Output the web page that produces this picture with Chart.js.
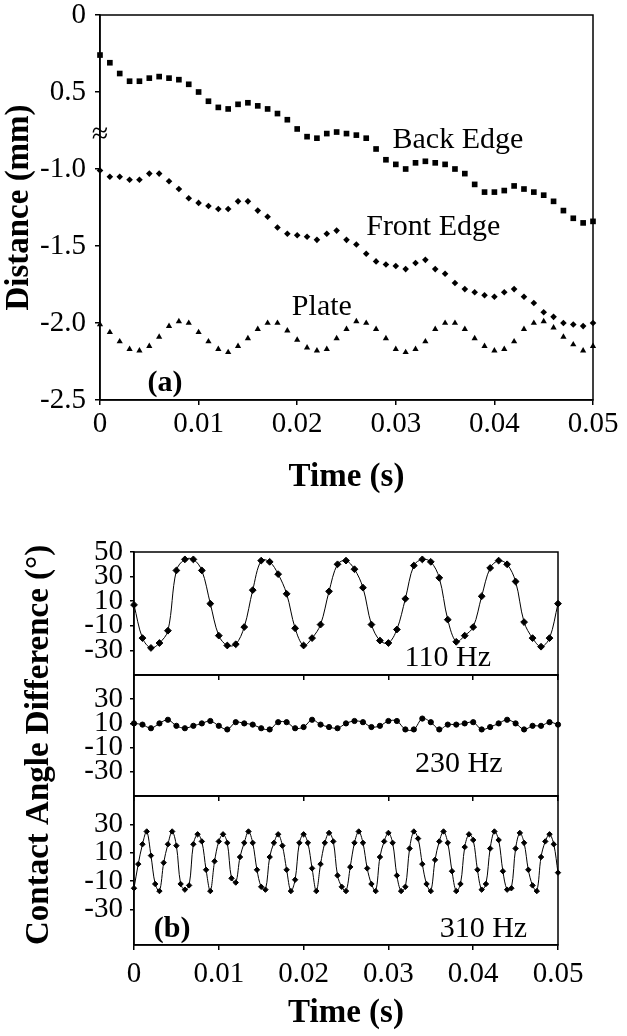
<!DOCTYPE html>
<html>
<head>
<meta charset="utf-8">
<script src="https://cdn.jsdelivr.net/npm/chart.js@4.4.1/dist/chart.umd.min.js"></script>
<style>
  html, body { margin: 0; padding: 0; background: #fff; }
  #page { position: relative; width: 627px; height: 1036px; overflow: hidden; }
  canvas { position: absolute; left: 0; }
</style>
</head>
<body>
<div id="page">
  <canvas id="chartA" width="627" height="520" style="top:0px"></canvas>
  <canvas id="chartB2" width="627" height="506" style="top:530px"></canvas>
  <canvas id="chartB1" width="627" height="150" style="top:530px"></canvas>
  <canvas id="chartB3" width="627" height="506" style="top:530px"></canvas>
</div>
<script>
// --- data ---
const xTickLabels = ['0', '0.01', '0.02', '0.03', '0.04', '0.05'];

// (a) sampled every 1 ms from 0 to 0.05 s
const timeA = Array.from({ length: 51 }, (_, i) => i * 0.001);
const backEdge = [
  -0.26, -0.31, -0.38, -0.43, -0.43, -0.41, -0.40, -0.41, -0.42, -0.45,
  -0.50, -0.56, -0.60, -0.61, -0.58, -0.57, -0.59, -0.61, -0.64, -0.68,
  -0.74, -0.79, -0.80, -0.77, -0.76, -0.77, -0.78, -0.80, -0.87, -0.94,
  -0.97, -1.00, -0.96, -0.95, -0.96, -0.97, -1.00, -1.03, -1.10, -1.15,
  -1.15, -1.14, -1.11, -1.13, -1.15, -1.17, -1.21, -1.27, -1.32, -1.35,
  -1.34
];
const frontEdge = [
  -1.01, -1.05, -1.05, -1.07, -1.07, -1.03, -1.03, -1.08, -1.13, -1.19,
  -1.22, -1.24, -1.26, -1.26, -1.21, -1.21, -1.27, -1.31, -1.38, -1.42,
  -1.43, -1.44, -1.46, -1.42, -1.40, -1.46, -1.49, -1.55, -1.60, -1.62,
  -1.63, -1.65, -1.61, -1.59, -1.65, -1.68, -1.74, -1.78, -1.80, -1.82,
  -1.83, -1.80, -1.78, -1.83, -1.87, -1.93, -1.96, -2.00, -2.01, -2.02,
  -2.00
];
const plate = [
  -2.01, -2.06, -2.12, -2.17, -2.18, -2.15, -2.09, -2.02, -1.99, -2.00,
  -2.06, -2.12, -2.17, -2.19, -2.15, -2.10, -2.04, -2.00, -2.00, -2.05,
  -2.11, -2.16, -2.18, -2.17, -2.10, -2.04, -1.99, -2.00, -2.04, -2.10,
  -2.17, -2.19, -2.17, -2.12, -2.04, -2.00, -2.00, -2.04, -2.10, -2.15,
  -2.18, -2.17, -2.12, -2.04, -2.00, -1.99, -2.03, -2.09, -2.14, -2.18,
  -2.15
];
const distTickValues = [0, -0.5, -1, -1.5, -2, -2.5];
const distTickLabels = ['0', '0.5', '-1.0', '-1.5', '-2.0', '-2.5'];

// (b) contact angle difference (deg)
const timeB = Array.from({ length: 51 }, (_, i) => i * 0.001);
const hz110 = [
    7, -20, -28, -24, -14,  35,  44,  44,  35,   8,
  -18, -26, -25, -11,  19,  43,  42,  32,  16, -12,
  -26, -20,  -9,  18,  40,  43,  36,  21,  -9, -22,
  -24, -13,  12,  39,  44,  42,  29,  -5, -23, -18,
  -11,  14,  37,  43,  40,  26,  -7, -20, -27, -20,
    8
];
const hz230 = [
  10,  9,  6, 10, 13,  8,  6,  8, 10, 12,
   8,  5, 11, 10,  9,  6,  5, 11, 11,  6,
   7, 13,  9,  7,  6, 10, 12, 11,  7,  8,
  12, 12,  5,  5, 14, 11,  5,  9,  9, 10,
  11,  5,  7, 10, 13, 10,  5,  8,  8, 11,
   9
];
// 310 Hz sampled every 0.5 ms
const timeB3 = Array.from({ length: 101 }, (_, i) => i * 0.0005);
const hz310 = [
  -15,   2,  16,  25,   8, -12, -17,   3,  16,  25,
   15, -12, -16, -13,  16,  23,  18,  -2, -17,   4,
   18,  23,  17,  -8, -11,   7,  17,  25,  17,  -2,
  -14, -16,   7,  17,  23,  15,  -2, -17,  -9,  17,
   23,  17,  -1, -17,   2,  17,  24,  18,  -6, -14,
  -17,   0,  17,  25,  17,  -1, -12, -17,   7,  18,
   24,  17,  -6, -17, -14,  13,  25,  20,   2, -12,
  -17,   5,  18,  25,  17,  -3, -17, -12,  14,  23,
   19,  -2, -16, -12,  13,  25,  19,  -3, -16, -15,
   13,  24,  17,  -2, -13, -17,   7,  18,  23,  16,
   -4
];
const angleTicksTop = [50, 30, 10, -10, -30];
const angleTicks = [30, 10, -10, -30];

// --- helpers ---
const serif = '"Liberation Serif", "Times New Roman", serif';
const tickFont = { family: serif, size: 29, lineHeight: 1 };
const titleFont = { family: serif, size: 33, weight: 'bold', lineHeight: 1.2 };
const noteFont = '30px ' + serif;
const pts = (xs, ys) => ys.map((y, i) => ({ x: xs[i], y }));
const fmtX = (v) => {
  const i = Math.round(v / 0.01);
  return Math.abs(v - i * 0.01) < 1e-9 ? xTickLabels[i] : '';
};
// keep tick labels from pushing the plot area around
const noPad = s => { s.paddingTop = 0; s.paddingBottom = 0; s.paddingLeft = 0; s.paddingRight = 0; };

const framePlugin = {
  id: 'frame',
  afterDraw(chart, args, opts) {
    const { ctx, chartArea: a } = chart;
    ctx.save();
    ctx.strokeStyle = '#000';
    ctx.lineWidth = 1.5;
    ctx.strokeRect(a.left, a.top, a.right - a.left, a.bottom - a.top);
    (opts.labels || []).forEach(l => {
      ctx.font = l.font;
      ctx.fillStyle = '#000';
      ctx.textAlign = 'center';
      ctx.textBaseline = 'middle';
      ctx.fillText(l.text, chart.scales.x.getPixelForValue(l.x), chart.scales.y.getPixelForValue(l.y));
    });
    ctx.restore();
  }
};

function xAxis(height, showLabels, title, labelPad, titlePad) {
  return {
    type: 'linear', min: 0, max: 0.05,
    afterFit: s => { s.height = height; noPad(s); },
    ticks: {
      stepSize: 0.01, display: showLabels, color: '#000', padding: labelPad,
      maxRotation: 0, autoSkip: false, font: tickFont, callback: fmtX
    },
    grid: { drawOnChartArea: false, drawTicks: true, tickLength: 5, color: '#000', lineWidth: 1.5 },
    border: { display: true, color: '#000', width: 1.5 },
    title: title ? {
      display: true, text: title, color: '#000', font: titleFont,
      padding: { top: 0, bottom: titlePad }
    } : { display: false }
  };
}

function angleAxis(min, max, tickVals, title) {
  return {
    type: 'linear', min, max,
    afterFit: s => { s.width = 134; noPad(s); },
    afterBuildTicks: s => { s.ticks = tickVals.map(v => ({ value: v })); },
    ticks: { color: '#000', padding: 7, autoSkip: false, font: tickFont },
    grid: { drawOnChartArea: false, drawTicks: true, tickLength: 4, color: '#000', lineWidth: 1.5 },
    border: { display: true, color: '#000', width: 1.5 },
    title: title ? {
      display: true, text: title, color: '#000', font: titleFont, align: 'start',
      padding: { top: 20, bottom: 0 }
    } : { display: false }
  };
}

const common = {
  responsive: false,
  animation: false,
  events: [],
  plugins: { legend: { display: false }, tooltip: { enabled: false } }
};

// --- (a) ---
new Chart(document.getElementById('chartA'), {
  type: 'scatter',
  data: {
    datasets: [
      { label: 'Back Edge', data: pts(timeA, backEdge), pointStyle: 'rect', pointRadius: 4, backgroundColor: '#000', borderWidth: 0, showLine: false, clip: false },
      { label: 'Front Edge', data: pts(timeA, frontEdge), pointStyle: 'rectRot', pointRadius: 3.3, backgroundColor: '#000', borderWidth: 0, showLine: false, clip: false },
      { label: 'Plate', data: pts(timeA, plate), pointStyle: 'triangle', pointRadius: 3.6, backgroundColor: '#000', borderWidth: 0, showLine: false, clip: false }
    ]
  },
  options: {
    ...common,
    layout: { padding: { top: 15, right: 34, left: 0, bottom: 0 } },
    scales: {
      x: xAxis(120, true, 'Time (s)', 5, 23),
      y: {
        type: 'linear', min: -2.5, max: 0,
        afterFit: s => { s.width = 100; noPad(s); },
        ticks: {
          stepSize: 0.5, color: '#000', padding: 9, autoSkip: false, font: tickFont,
          callback: v => {
            const i = distTickValues.findIndex(t => Math.abs(t - v) < 1e-9);
            return i >= 0 ? distTickLabels[i] : '';
          }
        },
        grid: { drawOnChartArea: false, drawTicks: true, tickLength: 5, color: '#000', lineWidth: 1.5 },
        border: { display: true, color: '#000', width: 1.5 },
        title: {
          display: true, text: 'Distance (mm)', color: '#000', font: titleFont,
          padding: { top: 0, bottom: 0 }
        }
      }
    },
    plugins: {
      ...common.plugins,
      frame: {
        labels: [
          { text: 'Back Edge', x: 0.0363, y: -0.81, font: noteFont },
          { text: 'Front Edge', x: 0.0338, y: -1.377, font: noteFont },
          { text: 'Plate', x: 0.0225, y: -1.896, font: noteFont },
          { text: '(a)', x: 0.0066, y: -2.39, font: 'bold 30px ' + serif },
          { text: '\u2248', x: 0, y: -0.78, font: '30px ' + serif }
        ]
      }
    }
  },
  plugins: [framePlugin]
});

// --- (b) panels ---
const lineSet = (data, style, r) => ({
  data, pointStyle: style, pointRadius: r, backgroundColor: '#000', borderColor: '#000',
  borderWidth: 1, showLine: true, tension: 0.35, clip: false
});

new Chart(document.getElementById('chartB1'), {
  type: 'scatter',
  data: { datasets: [lineSet(pts(timeB, hz110), 'rectRot', 3.4)] },
  options: {
    ...common,
    layout: { padding: { top: 22, right: 69, left: 0, bottom: 0 } },
    scales: { x: xAxis(5, false), y: angleAxis(-50, 50, angleTicksTop) },
    plugins: { ...common.plugins, frame: { labels: [{ text: '110 Hz', x: 0.037, y: -36, font: noteFont }] } }
  },
  plugins: [framePlugin]
});

new Chart(document.getElementById('chartB2'), {
  type: 'scatter',
  data: { datasets: [lineSet(pts(timeB, hz230), 'circle', 2.6)] },
  options: {
    ...common,
    layout: { padding: { top: 145, right: 69, left: 0, bottom: 0 } },
    scales: { x: xAxis(240, false), y: angleAxis(-50, 50, angleTicks) },
    plugins: { ...common.plugins, frame: { labels: [{ text: '230 Hz', x: 0.0383, y: -24, font: noteFont }] } }
  },
  plugins: [framePlugin]
});

new Chart(document.getElementById('chartB3'), {
  type: 'scatter',
  data: { datasets: [lineSet(pts(timeB3, hz310), 'rectRot', 2.7)] },
  options: {
    ...common,
    layout: { padding: { top: 266, right: 69, left: 0, bottom: 0 } },
    scales: {
      x: xAxis(91, true, 'Time (s)', 10, 3),
      y: angleAxis(-55, 50, angleTicks, 'Contact Angle Difference (\u00b0)')
    },
    plugins: {
      ...common.plugins,
      frame: {
        labels: [
          { text: '310 Hz', x: 0.0412, y: -44, font: noteFont },
          { text: '(b)', x: 0.0045, y: -44, font: 'bold 30px ' + serif }
        ]
      }
    }
  },
  plugins: [framePlugin]
});
</script>
</body>
</html>
